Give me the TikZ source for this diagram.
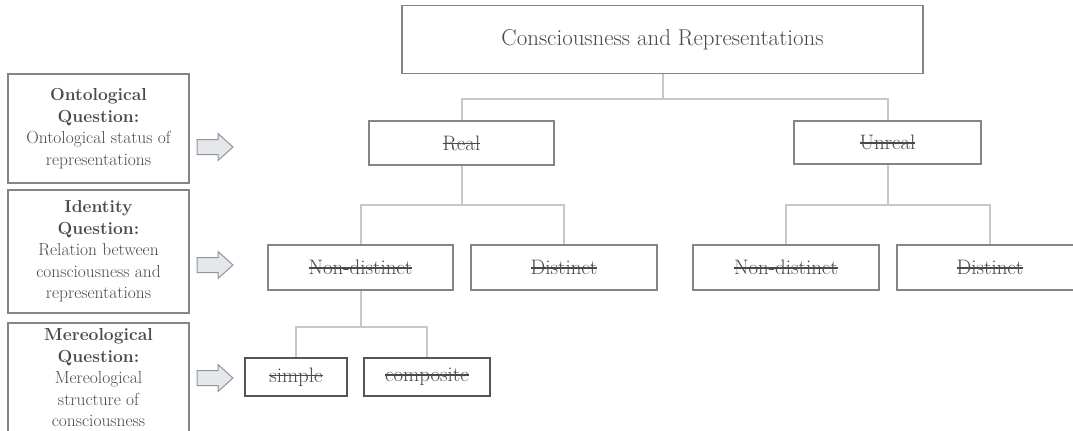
\documentclass[tikz,border=0pt]{standalone}
\usepackage{fontspec}
\usepackage{tikz}

\definecolor{boxgray}{HTML}{858585}
\definecolor{darkbox}{HTML}{555555}
\definecolor{txtgray}{HTML}{4A4A4A}
\definecolor{linkgray}{HTML}{C8C8C8}
\definecolor{arrowfill}{HTML}{E6E7E9}
\definecolor{arrowline}{HTML}{8C95A0}

% struck-through label
\newsavebox{\sthrubox}
\newcommand{\sthru}[1]{\sbox{\sthrubox}{#1}\rlap{\raisebox{0.28em}{\rule{\wd\sthrubox}{0.07em}}}\usebox{\sthrubox}}

\tikzset{
  catbox/.style={draw=boxgray, line width=1.6bp, rectangle, inner sep=0pt,
    text=txtgray, font=\fontsize{21}{24}\selectfont},
  leafbox/.style={catbox, draw=darkbox},
  qbox/.style={draw=boxgray, line width=1.6bp, rectangle, inner xsep=2bp, inner ysep=1bp,
    minimum width=181bp, align=center, text=txtgray, font=\fontsize{17.5}{21.6}\selectfont},
  link/.style={draw=linkgray, line width=2bp},
  blockarrow/.style={draw=arrowline, fill=arrowfill, line width=1bp, line join=miter}
}

\begin{document}
\begin{tikzpicture}[x=1bp, y=-1bp]
    \clip (0,0) rectangle (1073,430);
    \fill [white] (0,0) rectangle (1073,430);

    % question boxes on the left
    \node [qbox, minimum height=109bp] (ontq) at (98.5,128.5)
      {\textbf{Ontological}\\\textbf{Question:}\\Ontological status of\\representations};
    \node [qbox, minimum height=123bp] (idq) at (98.5,251.5)
      {\textbf{Identity}\\\textbf{Question:}\\Relation between\\consciousness and\\representations};
    \node [qbox, anchor=north, minimum height=110bp] (merq) at (98.5,322)
      {\textbf{Mereological}\\\textbf{Question:}\\Mereological\\structure of\\consciousness};

    % hollow arrows
    \foreach \y/\name in {147/ontarr, 265/idarr, 378/merarr} {
      \coordinate (\name) at (197,\y);
      \draw [blockarrow] (\name) ++(0,-7.5) -- ++(21,0) -- ++(0,-6) -- ++(15,13.5)
        -- ++(-15,13.5) -- ++(0,-6) -- ++(-21,0) -- cycle;
    }

    % tree
    \node [catbox, minimum width=521bp, minimum height=68bp, font=\fontsize{23}{26}\selectfont]
      (root) at (662.5,39.5) {Consciousness and Representations};
    \node [catbox, minimum width=185bp, minimum height=44bp] (real) at (461.5,143) {\sthru{Real}};
    \node [catbox, minimum width=187bp, minimum height=43bp] (unreal) at (887.5,142.5) {\sthru{Unreal}};
    \node [catbox, minimum width=185bp, minimum height=45bp] (realnd) at (360.5,267.5) {\sthru{Non-distinct}};
    \node [catbox, minimum width=186bp, minimum height=45bp] (reald) at (564,267.5) {\sthru{Distinct}};
    \node [catbox, minimum width=186bp, minimum height=45bp] (unrealnd) at (786,267.5) {\sthru{Non-distinct}};
    \node [catbox, minimum width=186bp, minimum height=45bp] (unreald) at (990,267.5) {\sthru{Distinct}};
    \node [leafbox, minimum width=102bp, minimum height=38bp] (simple) at (296,377) {\sthru{simple}};
    \node [leafbox, minimum width=126bp, minimum height=38bp] (composite) at (427,377) {\sthru{composite}};

    % links
    \draw [link] (root.south) -- ++(0,24.5) -| (real.north);
    \draw [link] (root.south) -- ++(0,24.5) -| (unreal.north);
    \draw [link] (real.south) -- ++(0,39) -| (realnd.north);
    \draw [link] (real.south) -- ++(0,39) -| (reald.north);
    \draw [link] (unreal.south) -- ++(0,40) -| (unrealnd.north);
    \draw [link] (unreal.south) -- ++(0,40) -| (unreald.north);
    \draw [link] (realnd.south) -- ++(0,36) -| (simple.north);
    \draw [link] (realnd.south) -- ++(0,36) -| (composite.north);
\end{tikzpicture}
\end{document}
